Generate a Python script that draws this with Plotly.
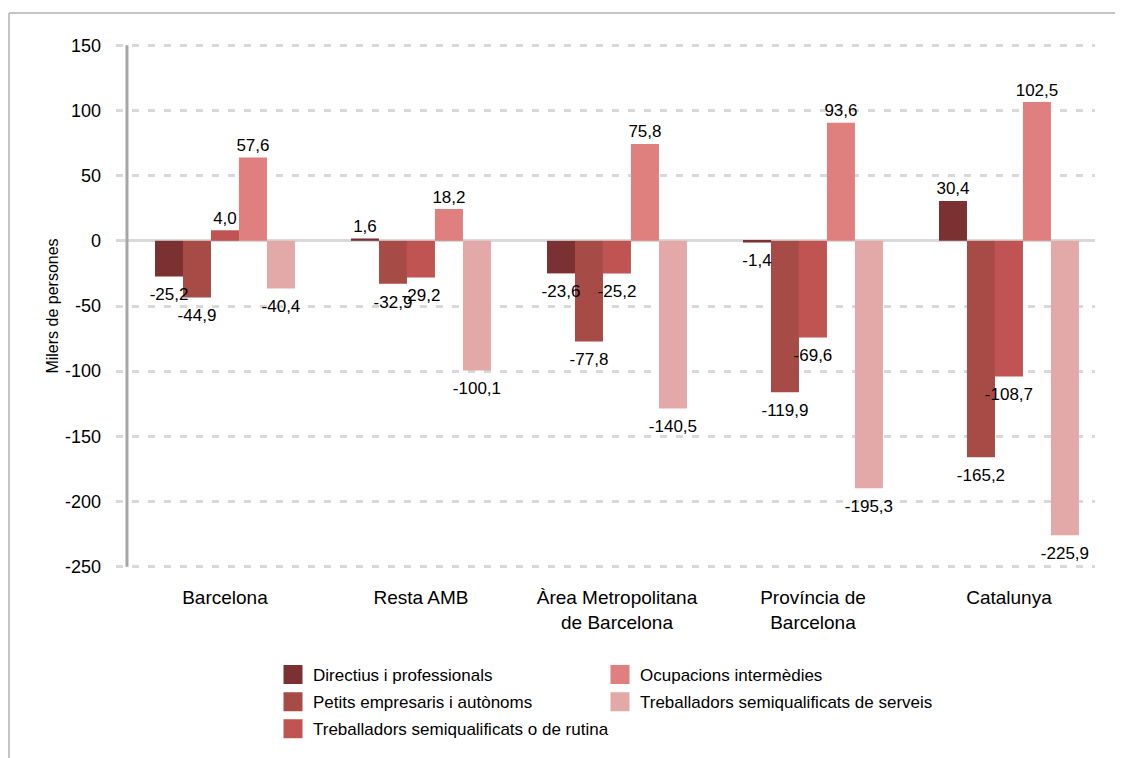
import plotly.graph_objects as go

categories = ["Barcelona", "Resta AMB", "Àrea Metropolitana<br>de Barcelona",
              "Província de<br>Barcelona", "Catalunya"]

series_names = ["Directius i professionals", "Petits empresaris i autònoms",
                "Treballadors semiqualificats o de rutina", "Ocupacions intermèdies",
                "Treballadors semiqualificats de serveis"]

# bar heights as drawn in the reference (thousands of people)
directius = [-27.4, 1.8, -25.0, -1.3, 30.6]
petits = [-43.4, -33.0, -77.3, -116.2, -166.0]
rutina = [8.1, -28.2, -25.0, -74.1, -104.0]
ocupacions = [64.0, 24.4, 74.3, 90.6, 106.5]
serveis = [-36.6, -99.5, -128.7, -189.8, -225.8]

# value labels as printed in the reference
directius_lbl = ["-25,2", "1,6", "-23,6", "-1,4", "30,4"]
petits_lbl = ["-44,9", "-32,9", "-77,8", "-119,9", "-165,2"]
rutina_lbl = ["4,0", "-29,2", "-25,2", "-69,6", "-108,7"]
ocupacions_lbl = ["57,6", "18,2", "75,8", "93,6", "102,5"]
serveis_lbl = ["-40,4", "-100,1", "-140,5", "-195,3", "-225,9"]

y_ticks = [150, 100, 50, 0, -50, -100, -150, -200, -250]

colors = ["#7B3131", "#A64B45", "#BF5452", "#E0807E", "#E3A9A8"]
values = [directius, petits, rutina, ocupacions, serveis]
labels = [directius_lbl, petits_lbl, rutina_lbl, ocupacions_lbl, serveis_lbl]
legend_ids = ["legend", "legend", "legend", "legend2", "legend2"]

FONT = "Liberation Sans, Arial, sans-serif"
GAP = 0.286

fig = go.Figure()
for name, vals, col in zip(series_names, values, colors):
    fig.add_trace(go.Bar(
        x=categories, y=vals, name=name, marker_color=col, marker_line_width=0,
        showlegend=False, hoverinfo="skip",
    ))

# value labels, grouped like the bars, sitting just beyond each bar end
for name, vals, lbls in zip(series_names, values, labels):
    fig.add_trace(go.Scatter(
        x=categories, y=vals, mode="markers+text", text=lbls,
        textposition=["top center" if v >= 0 else "bottom center" for v in vals],
        marker=dict(size=[2 if v >= 0 else 16 for v in vals], opacity=0),
        textfont=dict(family=FONT, size=17, color="#000000"),
        cliponaxis=False, showlegend=False, hoverinfo="skip", name=name + " (etiqueta)",
    ))

# legend entries (square swatches) on a hidden overlay axis pair
for i, (name, col, lg) in enumerate(zip(series_names, colors, legend_ids)):
    fig.add_trace(go.Scatter(
        x=[None], y=[None], mode="markers", name=name, legend=lg, legendgroup=f"g{i}",
        xaxis="x2", yaxis="y2",
        marker=dict(symbol="square", size=16, color=col, line=dict(color=col, width=3)),
        showlegend=True, hoverinfo="skip",
    ))

# page body has an 8px margin: figure is drawn 8px right/down of the window corner
OFF = 8
W, H = 1123, 750
L, T = 116 - OFF, 44 - OFF
R = W - (1095 - OFF)
B = H - (568 - OFF)
pw, ph = W - L - R, H - T - B

def px_x(p):
    return (p - OFF - L) / pw

def px_y(p):
    return (H - B - (p - OFF)) / ph

fig.update_layout(
    width=W, height=H,
    margin=dict(l=L, r=R, t=T, b=B, autoexpand=False),
    paper_bgcolor="white", plot_bgcolor="white",
    barmode="group", bargap=GAP, bargroupgap=0,
    scattermode="group", scattergap=GAP,
    font=dict(family=FONT, size=17, color="#000000"),
    xaxis=dict(
        type="category", range=[-0.556, 4.439], showgrid=False, zeroline=False,
        showline=False, ticks="", tickfont=dict(size=19), ticklabelstandoff=16,
        automargin=False,
    ),
    yaxis=dict(
        range=[-251, 151], tickvals=y_ticks, ticktext=[str(v) for v in y_ticks],
        showgrid=True, gridcolor="#D9D9D9", gridwidth=3, griddash="7px,9px",
        zeroline=True, zerolinecolor="#D9D9D9", zerolinewidth=3,
        showline=False, ticks="", tickfont=dict(size=18), ticklabelstandoff=14,
        title=dict(text="Milers de persones", font=dict(size=16), standoff=2),
        automargin=False,
    ),
    xaxis2=dict(overlaying="x", visible=False, range=[0, 1]),
    yaxis2=dict(overlaying="y", visible=False, range=[0, 1]),
    legend=dict(
        x=px_x(273), y=px_y(657), xanchor="left", yanchor="top",
        orientation="v", font=dict(size=17), bgcolor="rgba(0,0,0,0)",
        tracegroupgap=2, itemclick=False, itemdoubleclick=False,
    ),
    legend2=dict(
        x=px_x(600), y=px_y(657), xanchor="left", yanchor="top",
        orientation="v", font=dict(size=17), bgcolor="rgba(0,0,0,0)",
        tracegroupgap=2, itemclick=False, itemdoubleclick=False,
    ),
    shapes=[
        dict(type="line", xref="x", yref="y", x0=-0.5, x1=-0.5, y0=-250, y1=150,
             line=dict(color="#A6A6A6", width=3), layer="above"),
        # frame: top and left edges only
        dict(type="line", xref="paper", yref="paper",
             x0=px_x(9), x1=px_x(1131), y0=px_y(13), y1=px_y(13),
             line=dict(color="#C4C4C4", width=2), layer="below"),
        dict(type="line", xref="paper", yref="paper",
             x0=px_x(9), x1=px_x(9), y0=px_y(13), y1=px_y(759),
             line=dict(color="#C4C4C4", width=2), layer="below"),
    ],
)

fig.write_html("out.html")
